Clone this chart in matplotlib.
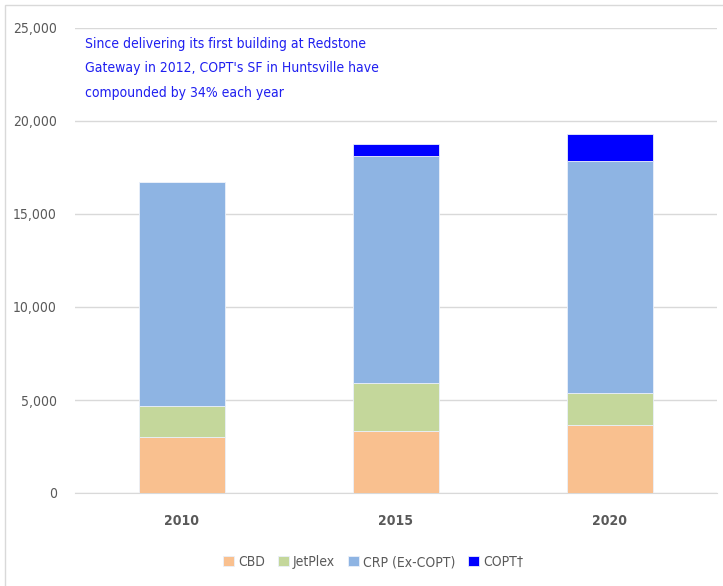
import matplotlib
matplotlib.use("Agg")
import matplotlib.pyplot as plt
import numpy as np
from matplotlib.ticker import FuncFormatter
from matplotlib.patches import Rectangle

plt.rcParams["font.family"] = ["DejaVu Sans"]
plt.rcParams["font.stretch"] = "condensed"

# Data (square feet, thousands)
years = ["2010", "2015", "2020"]
cbd = [3000, 3350, 3650]
jetplex = [1700, 2550, 1750]
crp = [12000, 12200, 12450]
copt = [0, 650, 1450]

series = [("CBD", cbd, "#F9C08F"),
          ("JetPlex", jetplex, "#C4D79B"),
          ("CRP (Ex-COPT)", crp, "#8EB4E3"),
          ("COPT\u2020", copt, "#0000FF")]

fig = plt.figure(figsize=(7.23, 5.86), dpi=100)
ax = fig.add_axes([75 / 723, 1 - 493 / 586, 642 / 723, 465 / 586])

x = np.arange(len(years))
bottom = np.zeros(len(years))
for name, values, color in series:
    ax.bar(x, values, width=0.4, bottom=bottom, color=color, label=name,
           edgecolor="#EAF0FA", linewidth=0.6, zorder=3)
    bottom += np.array(values)

ax.set_xlim(-0.5, 2.5)
ax.set_ylim(0, 25000)
ax.set_yticks(range(0, 25001, 5000))
ax.yaxis.set_major_formatter(FuncFormatter(lambda v, p: "{:,}".format(int(v))))
ax.grid(axis="y", color="#D9D9D9", linewidth=1.0, zorder=0)
ax.set_xticks(x)
ax.set_xticklabels(years, fontweight="bold")
for spine in ["top", "right", "left"]:
    ax.spines[spine].set_visible(False)
ax.spines["bottom"].set_color("#D9D9D9")
ax.tick_params(axis="both", length=0, colors="#595959", labelsize=10)
ax.tick_params(axis="x", pad=15)
ax.tick_params(axis="y", pad=13)

ax.text(85 / 723, 1 - 37 / 586,
        "Since delivering its first building at Redstone\n"
        "Gateway in 2012, COPT's SF in Huntsville have\n"
        "compounded by 34% each year",
        transform=fig.transFigure, color="#1F1FF0", fontsize=10,
        va="top", ha="left", linespacing=1.95)

handles, labels = ax.get_legend_handles_labels()
leg = fig.legend(handles, labels, loc="center", bbox_to_anchor=(373 / 723, 1 - 562 / 586),
                 ncol=4, frameon=False, fontsize=10, handlelength=0.8, handleheight=0.8,
                 handletextpad=0.3, columnspacing=0.9)
for t in leg.get_texts():
    t.set_color("#595959")

# light outer frame like the source chart
fig.patches.append(Rectangle((5 / 723, -0.1), 1.2, 1 - 5 / 586 + 0.1, transform=fig.transFigure,
                             fill=False, edgecolor="#D9D9D9", linewidth=1.0))

fig.savefig("out.png", dpi=100)
